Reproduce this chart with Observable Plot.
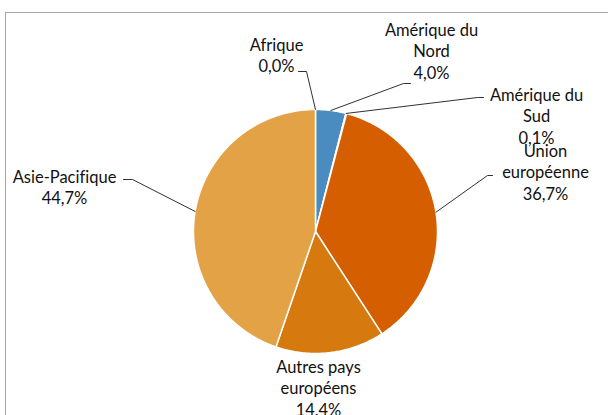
<!DOCTYPE html>
<html><head><meta charset="utf-8">
<script src="https://cdn.jsdelivr.net/npm/d3@7"></script>
<script src="https://cdn.jsdelivr.net/npm/@observablehq/plot@0.6"></script>
<style>
body{margin:0;background:#fff}
#chart{position:relative;width:608px;height:415px;overflow:hidden}
#chart text{font-variant-ligatures:none}
</style>
</head><body><div id="chart"></div>
<script>
// ---- data ----
const regions = ["Afrique","Amérique du Nord","Amérique du Sud","Union européenne","Autres pays européens","Asie-Pacifique"];
const shares = [0.0, 4.0, 0.1, 36.7, 14.4, 44.7];
const labelNames = ["Afrique","Amérique du\nNord","Amérique du\nSud","Union\neuropéenne","Autres pays\neuropéens","Asie-Pacifique"];
const colors = ["#a5a5a5","#4a8bc0","#8aa640","#d55e00","#d67a10","#e2a245"];

// ---- layout (pixels) ----
const W = 608, H = 415, CX = 315, CY = 231, R = 122;
// label block centres and leader elbows, in pixels
const labelPos = {
  "Afrique": {x:276, y:54, elbow:[298,71,306,71]},
  "Amérique du Nord": {x:431, y:50, elbow:[410,83,403,83]},
  "Amérique du Sud": {x:536, y:115, elbow:[483,97,477,97]},
  "Union européenne": {x:545, y:171, elbow:[492,175,487,175]},
  "Autres pays européens": {x:318, y:387, elbow:null},
  "Asie-Pacifique": {x:64, y:186, elbow:[123,179,132,179]}
};
const toX = px => (px - CX) / R;
const toY = py => (CY - py) / R;
const fmt = v => v.toFixed(1).replace(".", ",") + "%";

const arcs = d3.pie().sort(null).value(d => d)(shares);

// slice outlines (derived from pie angles)
const slicePts = [];
arcs.forEach((a, i) => {
  const name = regions[i];
  slicePts.push({region:name, x:0, y:0});
  const n = Math.max(2, Math.ceil((a.endAngle - a.startAngle) / 0.01));
  for (let k = 0; k <= n; k++) {
    const t = a.startAngle + (a.endAngle - a.startAngle) * k / n;
    slicePts.push({region:name, x:Math.sin(t), y:Math.cos(t)});
  }
  slicePts.push({region:name, x:0, y:0});
});

// labels
const labels = regions.map((r, i) => ({
  region:r,
  text: labelNames[i] + "\n" + fmt(shares[i]),
  x: toX(labelPos[r].x), y: toY(labelPos[r].y)
}));

// leaders
const leaders = [];
arcs.forEach((a, i) => {
  const r = regions[i], e = labelPos[r].elbow;
  if (!e) return;
  const m = (a.startAngle + a.endAngle) / 2;
  leaders.push({region:r, x:toX(e[0]), y:toY(e[1])});
  leaders.push({region:r, x:toX(e[2]), y:toY(e[3])});
  leaders.push({region:r, x:Math.sin(m), y:Math.cos(m)});
});

const chart = Plot.plot({
  width: W, height: H,
  margin: 0,
  x: {domain:[toX(0), toX(W)], axis:null},
  y: {domain:[toY(H), toY(0)], axis:null},
  color: {domain: regions, range: colors},
  style: {fontFamily: "Lato, 'Open Sans', sans-serif", background:"#fff"},
  marks: [
    Plot.frame({stroke:"#a6a6a6", insetLeft:5, insetTop:12, insetRight:-10, insetBottom:-10}),
    Plot.line(slicePts, {x:"x", y:"y", z:"region", fill:"region", stroke:"#fff", strokeWidth:1.5, strokeLinejoin:"round", curve:"linear"}),
    Plot.line(leaders, {x:"x", y:"y", z:"region", stroke:"#1a1a1a", strokeWidth:0.9}),
    Plot.text(labels, {x:"x", y:"y", text:"text", fontSize:16.5, lineHeight:1.32, fill:"#111", textAnchor:"middle"})
  ]
});
document.getElementById("chart").appendChild(chart);
</script>
</body></html>
